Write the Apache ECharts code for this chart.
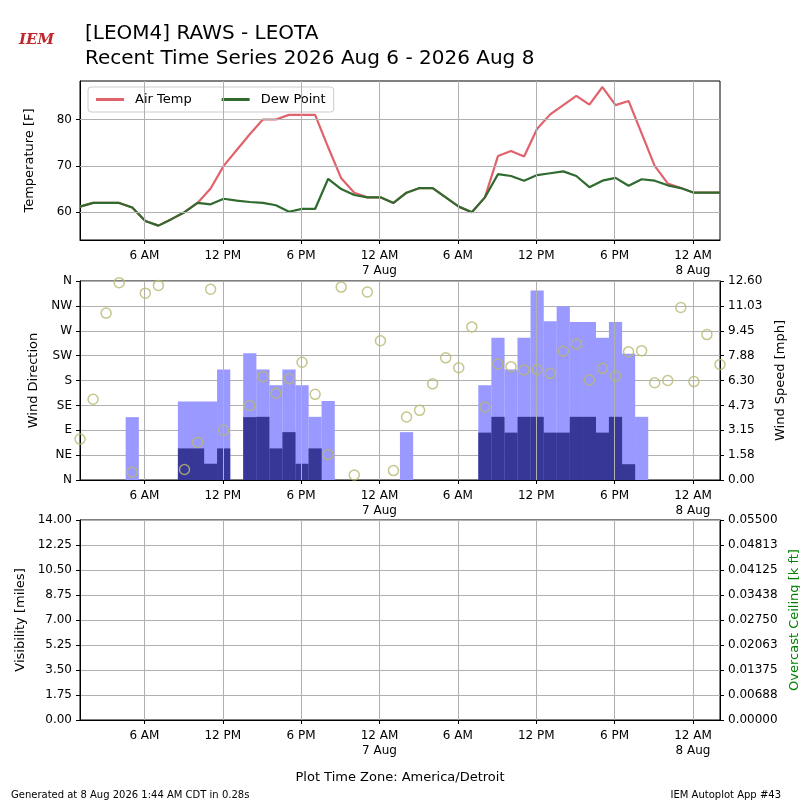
<!DOCTYPE html>
<html><head><meta charset="utf-8">
<script src="https://cdn.jsdelivr.net/npm/echarts@6/dist/echarts.min.js"></script>
<style>html,body{margin:0;background:#fff}#c{width:800px;height:800px}</style></head>
<body><div id="c"></div>
<script>
// Hours since 2026-08-06 00:00 (America/Detroit); hourly obs start 01:04
const obsStart = 1.07;
const airTemp = [61.2,62,62,62,61,58.1,57.1,58.5,60,62,65.1,70,73.4,76.8,80,80,81,81,81,74,67.3,64.2,63.2,63.2,62,64.2,65.2,65.2,63.2,61.2,60,63.2,72.1,73.2,72,78,81.1,83.1,85.1,83.2,87,83.1,84,77,70,66.2,65.2,64.2,64.2,64.2];
const dewPoint = [61.2,62,62,62,61,58.1,57.1,58.5,60,62,61.7,62.9,62.5,62.2,62,61.5,60.1,60.7,60.7,67.2,65,63.7,63.2,63.2,62,64.2,65.2,65.2,63.2,61.2,60,63.2,68.2,67.8,66.8,68,68.4,68.8,67.8,65.4,66.8,67.4,65.7,67.1,66.8,65.8,65.2,64.2,64.2,64.2];
const windDir = [74,146,302,357,14,338,352,null,19,68,345,90,null,135,187,157,183,213,155,46,349,9,340,252,17,114,126,174,221,203,277,132,210,205,199,200,193,233,246,181,202,188,232,234,176,180,312,178,263,209];
const gust = [0,0,0,0,3.98,0,0,0,4.97,4.97,4.97,7.0,0,8.03,7.0,6.0,7.0,6.0,4.0,5.0,0,0,0,0,0,3.03,0,0,0,0,0,6.0,9.0,7.0,9.0,12.0,10.05,11.0,10.0,10.0,9.0,10.0,8.0,4.0,0,0,0,0,0,0];
const speed = [0,0,0,0,0,0,0,0,2.0,2.0,1.03,2.0,0,3.98,4.0,2.0,3.03,1.03,2.0,0,0,0,0,0,0,0,0,0,0,0,0,3.0,4.0,3.0,4.0,4.0,3.0,3.0,4.0,4.0,3.0,4.0,1.0,0,0,0,0,0,0,0];
const xTicks = [6,12,18,24,30,36,42,48];
const xTickLabels = ['6 AM','12 PM','6 PM','12 AM\n7 Aug','6 AM','12 PM','6 PM','12 AM\n8 Aug'];
const dirLabels = ['N','NE','E','SE','S','SW','W','NW','N'];
const tempTicks = [60,70,80];

const t = i => obsStart + i;
const xMin = 1.07, xMax = 50.07;
const font = 'DejaVu Sans';
const fx = (v,d) => (Math.round(v*Math.pow(10,d)+1e-6)/Math.pow(10,d)).toFixed(d);
const grids = [
  {left:80,right:80,top:81,height:159},
  {left:80,right:80,top:281,height:199},
  {left:80,right:80,top:520,height:200}
];
function xAxis(g){
  return {type:'value',gridIndex:g,min:xMin,max:xMax,
    axisLine:{onZero:false,lineStyle:{color:'#000'}},
    axisTick:{customValues:xTicks,length:4,lineStyle:{color:'#000'}},
    axisLabel:{customValues:xTicks,formatter:v=>xTickLabels[xTicks.indexOf(Math.round(v))]||'',color:'#000',fontFamily:font,fontSize:12,lineHeight:15},
    splitLine:{show:false}};
}
const gridLine = {color:'#b0b0b0',width:1,type:'solid'};
function vlines(){return xTicks.map(v=>({xAxis:v}));}
const opt = {
  animation:false,
  textStyle:{fontFamily:font},
  grid:grids.map(g=>Object.assign({containLabel:false,outerBoundsMode:'none',show:true,borderColor:'#000',borderWidth:1},g)),
  title:[
    {text:'[LEOM4] RAWS - LEOTA\nRecent Time Series 2026 Aug 6 - 2026 Aug 8',left:80,top:16,textStyle:{fontFamily:font,fontSize:20,fontWeight:'normal',color:'#000',lineHeight:25}},
    {text:'IEM',left:14,top:28,textStyle:{fontFamily:'DejaVu Serif',fontSize:15,fontStyle:'italic',fontWeight:'bold',color:'#c0282d'}},
    {text:'Plot Time Zone: America/Detroit',left:'center',top:766,textStyle:{fontFamily:font,fontSize:13,fontWeight:'normal',color:'#000'}},
    {text:'Generated at 8 Aug 2026 1:44 AM CDT in 0.28s',left:6,top:785,textStyle:{fontFamily:font,fontSize:10,fontWeight:'normal',color:'#000'}},
    {text:'IEM Autoplot App #43',right:14,top:785,textStyle:{fontFamily:font,fontSize:10,fontWeight:'normal',color:'#000'}}
  ],
  legend:{data:['Air Temp','Dew Point'],left:88,top:87,orient:'horizontal',itemWidth:28,itemHeight:3,itemGap:30,
    padding:[6,8],borderColor:'#ccc',borderWidth:1,borderRadius:3,backgroundColor:'rgba(255,255,255,0.8)',
    textStyle:{fontFamily:font,fontSize:13,color:'#000',padding:[0,0,0,6]},icon:'rect'},
  xAxis:[xAxis(0),xAxis(1),xAxis(2)],
  yAxis:[
    {type:'value',gridIndex:0,min:54,max:88.3,interval:2,name:'Temperature [F]',nameLocation:'middle',nameGap:44,nameTextStyle:{fontSize:13,color:'#000'},
      axisLine:{show:true,lineStyle:{color:'#000'}},axisTick:{customValues:tempTicks,length:4},axisLabel:{customValues:tempTicks,color:'#000',fontSize:12},splitLine:{show:false}},
    {type:'value',gridIndex:1,min:0,max:360,interval:45,name:'Wind Direction',nameLocation:'middle',nameGap:40,nameTextStyle:{fontSize:13,color:'#000'},
      axisLine:{show:true,lineStyle:{color:'#000'}},axisTick:{length:4},axisLabel:{formatter:v=>dirLabels[Math.round(v/45)],color:'#000',fontSize:12},splitLine:{lineStyle:gridLine}},
    {type:'value',gridIndex:1,position:'right',min:0,max:12.6,interval:1.575,name:'Wind Speed [mph]',nameLocation:'middle',nameGap:54,nameTextStyle:{fontSize:13,color:'#000'},
      axisLine:{show:true,lineStyle:{color:'#000'}},axisTick:{length:4},axisLabel:{formatter:v=>fx(v,2),color:'#000',fontSize:12},splitLine:{show:false}},
    {type:'value',gridIndex:2,min:0,max:14,interval:1.75,name:'Visibility [miles]',nameLocation:'middle',nameGap:48,nameTextStyle:{fontSize:13,color:'#000'},
      axisLine:{show:true,lineStyle:{color:'#000'}},axisTick:{length:4},axisLabel:{formatter:v=>fx(v,2),color:'#000',fontSize:12},splitLine:{lineStyle:gridLine}},
    {type:'value',gridIndex:2,position:'right',min:0,max:0.055,interval:0.006875,name:'Overcast Ceiling [k ft]',nameLocation:'middle',nameGap:66,nameTextStyle:{fontSize:13,color:'#008000'},
      axisLine:{show:true,lineStyle:{color:'#000'}},axisTick:{length:4},axisLabel:{formatter:v=>fx(v,5),color:'#000',fontSize:12},splitLine:{show:false}}
  ],
  series:[
    {type:'line',name:'_grid0',xAxisIndex:0,yAxisIndex:0,data:[],silent:true,
      markLine:{symbol:'none',silent:true,label:{show:false},lineStyle:gridLine,data:vlines().concat(tempTicks.map(v=>({yAxis:v})))}},
    {type:'line',name:'Air Temp',xAxisIndex:0,yAxisIndex:0,data:airTemp.map((v,i)=>[t(i),v]),showSymbol:false,lineStyle:{color:'#e0626a',width:2.2},itemStyle:{color:'#e0626a'}},
    {type:'line',name:'Dew Point',xAxisIndex:0,yAxisIndex:0,data:dewPoint.map((v,i)=>[t(i),v]),showSymbol:false,lineStyle:{color:'#2f6b2f',width:2.2},itemStyle:{color:'#2f6b2f'}},
    {type:'bar',name:'Gust',xAxisIndex:1,yAxisIndex:2,data:gust.map((v,i)=>[t(i),v]),barWidth:13.2,barGap:'-100%',itemStyle:{color:'#9999ff'},z:1,
      markLine:{symbol:'none',silent:true,label:{show:false},lineStyle:gridLine,data:vlines()}},
    {type:'bar',name:'Speed',xAxisIndex:1,yAxisIndex:2,data:speed.map((v,i)=>[t(i),v]),barWidth:13.2,barGap:'-100%',itemStyle:{color:'#373797'},z:2},
    {type:'scatter',name:'Dir',xAxisIndex:1,yAxisIndex:1,data:windDir.map((v,i)=>[t(i),v]).filter(p=>p[1]!==null),symbol:'circle',symbolSize:10,
      itemStyle:{color:'rgba(0,0,0,0)',borderColor:'#b8b870',borderWidth:1.5},z:5},
    {type:'line',name:'_grid2',xAxisIndex:2,yAxisIndex:3,data:[],silent:true,
      markLine:{symbol:'none',silent:true,label:{show:false},lineStyle:gridLine,data:vlines()}}
  ]
};
echarts.init(document.getElementById('c')).setOption(opt);
</script></body></html>
